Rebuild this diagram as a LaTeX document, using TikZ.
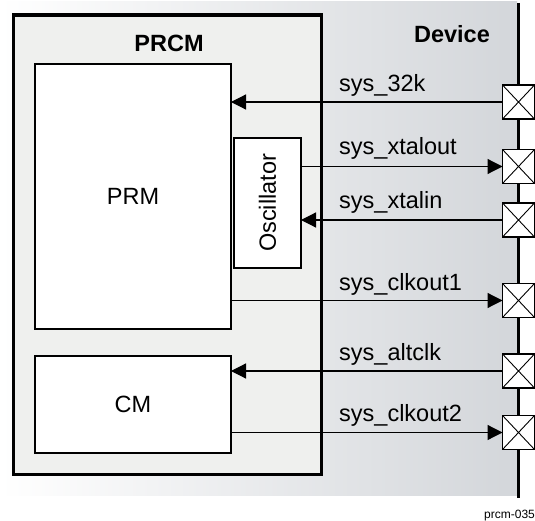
\documentclass[tikz,border=0pt]{standalone}
\usepackage{fontspec}
\setmainfont{Liberation Sans}
\usetikzlibrary{arrows.meta}
\definecolor{prcmfill}{RGB}{239,240,238}
\definecolor{bgright}{RGB}{211,214,218}
\begin{document}
\begin{tikzpicture}[x=1pt,y=-1pt,
  bigfont/.style={font=\fontsize{23.5}{27}\selectfont},
  box/.style={draw,line width=2pt,fill=white,inner sep=0pt,outer sep=0pt,bigfont},
  pad/.style={draw,line width=1.5pt,fill=white,minimum width=32pt,minimum height=34pt,
    inner sep=0pt,outer sep=0pt,
    path picture={\draw[line width=0.9pt] (path picture bounding box.north west) -- (path picture bounding box.south east)
      (path picture bounding box.north east) -- (path picture bounding box.south west);}},
  sig/.style={line width=1.2pt,-{Triangle[length=15pt,width=15pt]}},
  lbl/.style={anchor=base west,inner sep=0pt,bigfont},
  title/.style={anchor=base,inner sep=0pt,font=\fontsize{23.5}{27}\selectfont\bfseries}
]
\useasboundingbox (0,0) rectangle (535,521);
% device background
\shade[left color=white,right color=bgright] (0,2) rectangle (517,495);
% PRCM block
\node[draw,line width=3.5pt,fill=prcmfill,minimum width=308pt,minimum height=459.5pt,inner sep=0pt,outer sep=0pt] (prcm) at (167.5,244.75) {};
\node[title] (prcmlbl) at (169,52) {PRCM};
\node[title] (devlbl) at (452,43) {Device};
% inner modules
\node[box,minimum width=196pt,minimum height=265pt] (prm) at (133,196.5) {PRM};
\node[box,minimum width=67pt,minimum height=130pt] (osc) at (267.5,203) {};
\node[rotate=90,inner sep=0pt,bigfont] (osclbl) at (osc.center) {Oscillator};
\node[box,minimum width=196pt,minimum height=97pt] (cm) at (133,404.5) {CM};
% device boundary
\coordinate (bustop) at (518.5,3);
\coordinate (busbot) at (518.5,498);
\draw[line width=2.5pt] (bustop) -- (busbot);
% pads
\node[pad] (p1) at (518.5,102) {};
\node[pad] (p2) at (518.5,166.5) {};
\node[pad] (p3) at (518.5,220) {};
\node[pad] (p4) at (518.5,300.5) {};
\node[pad] (p5) at (518.5,371) {};
\node[pad] (p6) at (518.5,432.5) {};
% signals
\draw[sig] (p1.west) -- (p1.west -| prm.east);
\draw[sig] (osc.east |- p2.west) -- (p2.west);
\draw[sig] (p3.west) -- (p3.west -| osc.east);
\draw[sig] (prm.east |- p4.west) -- (p4.west);
\draw[sig] (p5.west) -- (p5.west -| cm.east);
\draw[sig] (cm.east |- p6.west) -- (p6.west);
% labels
\node[lbl] (l1) at (339,92) {sys\_32k};
\node[lbl] (l2) at (339,155) {sys\_xtalout};
\node[lbl] (l3) at (339,209) {sys\_xtalin};
\node[lbl] (l4) at (339,290) {sys\_clkout1};
\node[lbl] (l5) at (339,360) {sys\_altclk};
\node[lbl] (l6) at (339,421) {sys\_clkout2};
\node[anchor=base west,inner sep=0pt,font=\fontsize{12}{14}\selectfont] (figid) at (484,518) {prcm-035};
\end{tikzpicture}
\end{document}
